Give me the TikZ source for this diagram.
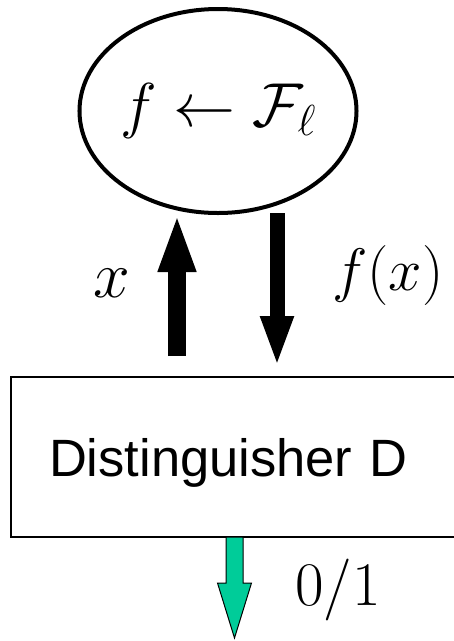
\RequirePackage{fix-cm}
\documentclass[tikz,border=0pt]{standalone}
\usepackage{fontspec}
\setsansfont{Liberation Sans}
\usepackage{xcolor}
\usepackage{tikz}
\usetikzlibrary{positioning,arrows.meta,calc,shapes.geometric}
\definecolor{outgreen}{RGB}{0,204,153}
\begin{document}
\begin{tikzpicture}[x=1pt,y=-1pt,
  m/.style={font=\fontsize{#1}{70}\selectfont,inner sep=0pt},
  m/.default=60,
  fat/.style={line width=#1},
  >=Stealth]
\useasboundingbox (0,0) rectangle (454,641);
\node[draw,ellipse,line width=4pt,outer sep=0pt,minimum width=260pt,minimum height=204pt,m=62] (fam) at (218,111) {$f\leftarrow\mathcal{F}_{\ell}$};
\node[draw,line width=2pt,outer sep=0pt,text width=383pt,inner xsep=38pt,minimum height=160pt,text depth=0pt,align=left,font=\sffamily\fontsize{52.5}{60}\selectfont] (dist) at (240.5,457) {Distinguisher D};
\coordinate (upx) at (177,0); \coordinate (dnx) at (277,0); \coordinate (gx) at (234.5,0);
\draw[fat=18pt,-{Triangle[length=59pt,width=34pt]},shorten <=21pt] (dist.north -| upx) -- (fam.south -| upx);
\draw[fat=15pt,-{Triangle[length=51pt,width=30pt]},shorten >=10pt] (fam.south -| dnx) -- (dist.north -| dnx);
\coordinate (out) at (234.5,638);
\draw[fill=outgreen,line width=1pt,line join=miter] ($(dist.south -| gx)+(-8.5,0)$) -- ++(0,46) -- ++(-8.5,0) -- (out) -- ++(17,-55) -- ++(-8.5,0) -- ($(dist.south -| gx)+(8.5,0)$) -- cycle;
\node[m=66] (xl) at (112,283) {$x$};
\node[m=60] (fxl) at (388,275) {$f(x)$};
\node[m=62] (bit) at (338,590) {$0/1$};
\end{tikzpicture}
\end{document}
